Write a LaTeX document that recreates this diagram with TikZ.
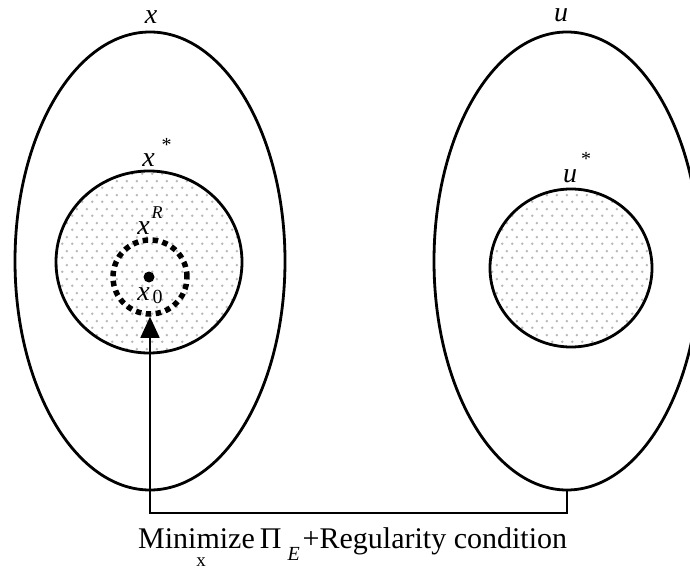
\documentclass[tikz,border=0pt]{standalone}
\usepackage{fontspec}
\setmainfont{Liberation Serif}
\usetikzlibrary{shapes.geometric,arrows.meta,patterns.meta}
\tikzdeclarepattern{
  name=softdots, type=uncolored,
  bounding box={(0pt,0pt) and (10pt,14pt)},
  tile size={(10pt,14pt)},
  code={\fill (2.5pt,3.5pt) circle (1.5pt); \fill (7.5pt,10.5pt) circle (1.5pt);}
}
\begin{document}
\begin{tikzpicture}[x=1pt,y=-1pt,
  setshape/.style={draw, line width=2.8pt, ellipse, inner sep=0pt, outer sep=0pt},
  shadedset/.style={setshape, pattern=softdots, pattern color=black!28},
  ringdash/.style={draw, circle, line width=5.5pt, dash pattern=on 5.5pt off 4.5pt, inner sep=0pt, minimum size=74pt},
  lab/.style={inner sep=0pt, anchor=base, font=\fontsize{28}{28}\selectfont\itshape},
  conn/.style={line width=1.6pt, -{Triangle[length=21pt,width=19pt]}},
  goaltext/.style={inner sep=0pt, anchor=base west, font=\fontsize{30}{30}\selectfont}
]
\clip (0,0) rectangle (690,569);
\useasboundingbox (0,0) rectangle (690,569);
% outer sets
\node[setshape, minimum width=270pt, minimum height=458pt] (X) at (150,261) {};
\node[setshape, minimum width=266pt, minimum height=458pt] (U) at (567,261) {};
% inner sets
\node[shadedset, minimum width=186pt, minimum height=182pt] (Xs) at (149,262) {};
\node[shadedset, minimum width=162pt, minimum height=158pt] (Us) at (571,268) {};
% dashed ring and point
\node[ringdash] (XR) at (150,277) {};
\node[circle, fill, inner sep=0pt, minimum size=11pt] (x0dot) at (149,277) {};
% labels
\node[lab] (lx) at (151,24) {x};
\node[lab] (lu) at (561,22) {u};
\node[lab] (lxs) at (157,167) {x\hspace{7pt}\raisebox{15pt}{\fontsize{20}{20}\selectfont\upshape *}};
\node[lab] (lus) at (577,183) {u\hspace{4pt}\raisebox{17pt}{\fontsize{20}{20}\selectfont\upshape *}};
\node[lab] (lxr) at (150,235) {x\hspace{2pt}\raisebox{17pt}{\fontsize{18}{18}\selectfont R}};
\node[lab] (lx0) at (150,300) {x\hspace{3pt}\raisebox{-3pt}{\fontsize{20}{20}\selectfont\upshape 0}};
% connector
\coordinate (bend) at (150,513);
\draw[conn] (U.south) |- (bend) -- (XR.south);
% goal text
\node[goaltext] (goal) at (138,548) {Minimize\hspace{5pt}Π\hspace{6pt}\raisebox{-12pt}{\fontsize{20}{20}\selectfont\itshape E}\hspace{3pt}+Regularity condition};
\node[inner sep=0pt, anchor=base, font=\fontsize{19}{19}\selectfont] (goalsub) at (201,566) {x};
\end{tikzpicture}
\end{document}
